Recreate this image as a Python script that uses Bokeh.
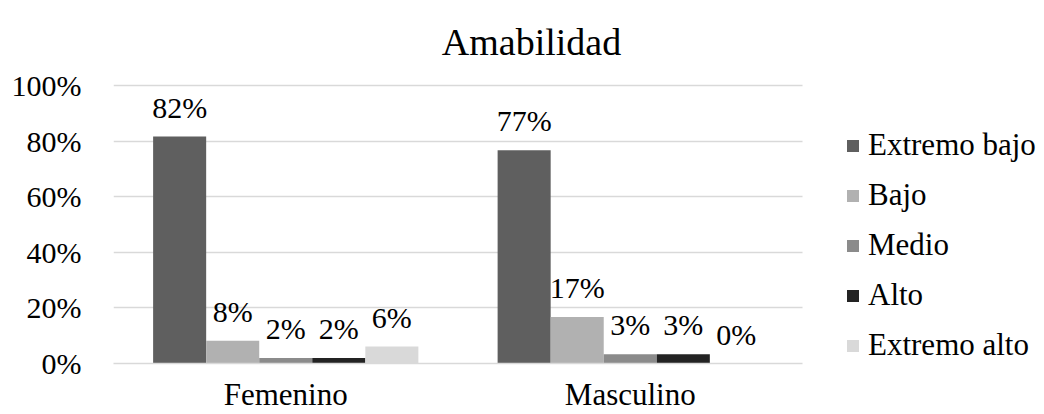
from bokeh.plotting import figure
from bokeh.models import (ColumnDataSource, Range1d, FixedTicker, PrintfTickFormatter,
                          CustomJSTickFormatter, Legend, LegendItem, LabelSet, Label)
from bokeh.transform import dodge
from bokeh.core.properties import value
from bokeh.embed import file_html
from bokeh.resources import INLINE

# ---- data ----
title_text = "Amabilidad"
categories = ["Femenino", "Masculino"]
series_names = ["Extremo bajo", "Bajo", "Medio", "Alto", "Extremo alto"]
extremo_bajo = [81.6, 76.7]
bajo = [8.2, 16.7]
medio = [2.0, 3.3]
alto = [2.0, 3.3]
extremo_alto = [6.1, 0.0]
y_ticks = [0, 20, 40, 60, 80, 100]

series_values = [extremo_bajo, bajo, medio, alto, extremo_alto]
keys = ["eb", "b", "m", "a", "ea"]
colors = ["#5f5f5f", "#b1b1b1", "#8b8b8b", "#232323", "#d9d9d9"]
FONT = "Liberation Serif"
TXT = "#000000"

# categorical slots: category i occupies [i, i+1], centre at i + 0.5
n_cat = len(categories)
cat_pos = [i + 0.5 for i in range(n_cat)]

data = {"cat": categories, "x": cat_pos}
for k, vals in zip(keys, series_values):
    data[k] = vals
    data[k + "_lbl"] = [f"{round(v)}%" for v in vals]
src = ColumnDataSource(data)

# layout: plot area 689 px wide for the two categories, frame extended to the
# right so that the legend (in the frame) is not clipped; grid limited to 0..n_cat
W, H = 1044, 414
LEFT, BOTTOM = 113, 51
PLOT_W = 689
frame_w = W - LEFT
x_end = n_cat * frame_w / PLOT_W
y_end = 130.54

p = figure(x_range=Range1d(0, x_end), y_range=Range1d(0, y_end),
           width=W, height=H, output_backend="svg", toolbar_location=None,
           min_border_left=LEFT, min_border_right=0, min_border_top=0,
           min_border_bottom=BOTTOM)
p.outline_line_color = None
p.background_fill_color = "white"
p.border_fill_color = "white"

bw = 0.154
items = []
for i, (k, name, c) in enumerate(zip(keys, series_names, colors)):
    off = (i - 2) * bw
    r = p.vbar(x=dodge("x", off), top=k, width=bw, source=src,
               fill_color=c, line_color=None)
    items.append(LegendItem(label=name, renderers=[r]))
    p.add_layout(LabelSet(x=dodge("x", off), y=k, text=k + "_lbl",
                          source=src, y_offset=19, text_align="center",
                          text_baseline="alphabetic", text_font=value(FONT),
                          text_font_size="30px", text_color=TXT))

# x axis (categories)
p.xaxis.ticker = FixedTicker(ticks=cat_pos)
p.xaxis.formatter = CustomJSTickFormatter(args=dict(cats=categories),
                                          code="return cats[Math.floor(tick)];")
p.xaxis.bounds = (0, n_cat)
p.xaxis.axis_line_color = "#d9d9d9"
p.xaxis.axis_line_width = 1.3
p.xaxis.major_tick_line_color = None
p.xaxis.minor_tick_line_color = None
p.xaxis.major_tick_out = 0
p.xaxis.major_tick_in = 0
p.xaxis.major_label_standoff = 13
p.xaxis.major_label_text_font = FONT
p.xaxis.major_label_text_font_size = "31px"
p.xaxis.major_label_text_color = TXT
p.xgrid.grid_line_color = None

# y axis
p.yaxis.ticker = FixedTicker(ticks=y_ticks)
p.ygrid.ticker = FixedTicker(ticks=y_ticks)
p.ygrid.cross_bounds = (0, n_cat)
p.ygrid.grid_line_color = "#d9d9d9"
p.ygrid.grid_line_width = 1.3
p.yaxis.formatter = PrintfTickFormatter(format="%d%%")
p.yaxis.axis_line_color = None
p.yaxis.major_tick_line_color = None
p.yaxis.minor_tick_line_color = None
p.yaxis.major_tick_out = 0
p.yaxis.major_tick_in = 0
p.yaxis.minor_tick_out = 0
p.yaxis.major_label_standoff = 32
p.yaxis.major_label_text_font = FONT
p.yaxis.major_label_text_font_size = "30px"
p.yaxis.major_label_text_color = TXT

# title
p.add_layout(Label(x=1.2134, y=100, y_offset=43, text=title_text, text_align="center",
                   text_baseline="alphabetic", text_font=FONT,
                   text_font_size="38px", text_color=TXT))

legend = Legend(items=items, location=(845 - LEFT, 0), glyph_width=15, glyph_height=15,
                label_standoff=8, spacing=14, label_height=35, padding=0, margin=0,
                border_line_color=None, background_fill_alpha=0,
                label_text_font=FONT, label_text_font_size="31px",
                label_text_color=TXT)
p.add_layout(legend)

open("out.html", "w").write(file_html(p, INLINE))
